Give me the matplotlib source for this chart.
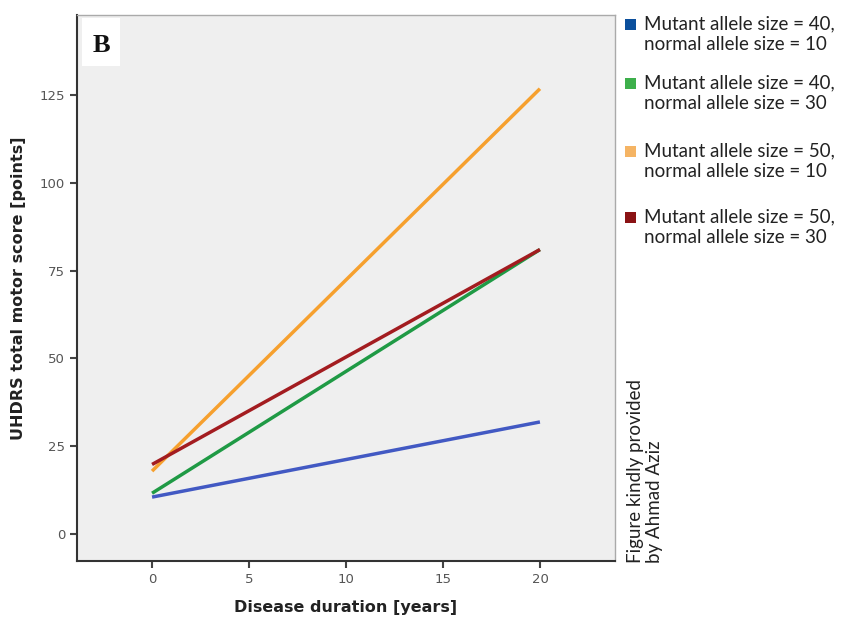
import matplotlib
matplotlib.use("Agg")
import matplotlib.pyplot as plt
import numpy as np

years = [0, 20]
blue_vals = [10.5, 31.9]
green_vals = [11.6, 81.0]
orange_vals = [17.9, 126.8]
red_vals = [19.8, 81.0]
series_labels = [
    "Mutant allele size = 40,\nnormal allele size = 10",
    "Mutant allele size = 40,\nnormal allele size = 30",
    "Mutant allele size = 50,\nnormal allele size = 10",
    "Mutant allele size = 50,\nnormal allele size = 30",
]
line_colors = ["#4259c3", "#1f9a45", "#f6a02e", "#a31c20"]
legend_colors = ["#0b4f9c", "#3daf4b", "#f5b464", "#8a1214"]
xticks = [0, 5, 10, 15, 20]
yticks = [0, 25, 50, 75, 100, 125]

W, H = 843, 621
fig = plt.figure(figsize=(W/100, H/100), dpi=100)
ax = fig.add_axes([77/W, 1-561/H, (615-77)/W, (561-15)/H])
ax.set_facecolor("#efefef")

for vals, c in zip([blue_vals, green_vals, orange_vals, red_vals], line_colors):
    ax.plot(years, vals, color=c, lw=2.5, solid_capstyle="butt")

ax.set_xlim(-3.87, 23.87)
ax.set_ylim(-7.7, 147.8)
ax.set_xticks(xticks)
ax.set_yticks(yticks)
ax.tick_params(axis="both", direction="out", length=5, width=1.5, color="#444444",
               labelcolor="#555555", labelsize=9.5)
for s in ["left", "bottom"]:
    ax.spines[s].set_color("#333333")
    ax.spines[s].set_linewidth(1.5)
for s in ["top", "right"]:
    ax.spines[s].set_color("#aaaaaa")
    ax.spines[s].set_linewidth(1.0)

ax.set_xlabel("Disease duration [years]", fontsize=11.5, fontweight="bold", color="#222222", labelpad=10)
ax.set_ylabel("UHDRS total motor score [points]", fontsize=11.5, fontweight="bold", color="#222222", labelpad=10)

# white box with panel letter
fig.patches.append(plt.Rectangle((82/W, 1-66/H), 38/W, 48/H, transform=fig.transFigure,
                                 fc="white", ec="none", zorder=5))
fig.text(101/W, 1-46/H, "B", ha="center", va="center", fontsize=19, fontweight="bold",
         family="Liberation Serif", color="#111111", zorder=6)

ys = [25, 84, 152, 218]
for lbl, c, y in zip(series_labels, legend_colors, ys):
    fig.patches.append(plt.Rectangle((625/W, 1-(y+5)/H), 11/W, 11/H,
                                     transform=fig.transFigure, fc=c, ec="none"))
    fig.text(644/W, 1-(y-10)/H, lbl, ha="left", va="top", fontsize=13.5,
             family="Lato", color="#222222", linespacing=1.3)

fig.text(627/W, 1-563/H, "Figure kindly provided\nby Ahmad Aziz", rotation=90,
         ha="left", va="bottom", fontsize=13.5, family="Lato", color="#222222",
         linespacing=1.15)

fig.savefig("out.png", dpi=100)
